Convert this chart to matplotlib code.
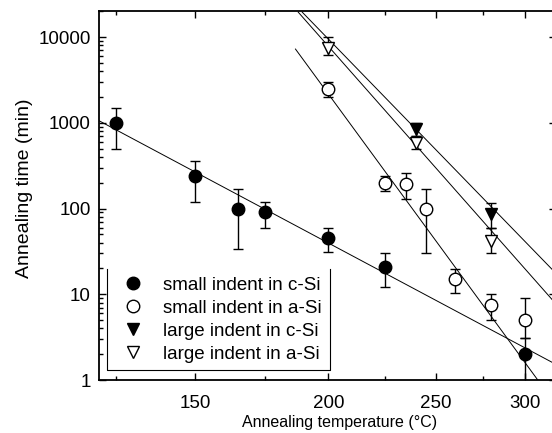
import matplotlib
matplotlib.use('Agg')
import matplotlib.pyplot as plt
import numpy as np
from matplotlib.ticker import FixedLocator, LogLocator, FuncFormatter, NullFormatter
from matplotlib.lines import Line2D

plt.rcParams['font.family'] = ['Liberation Sans', 'DejaVu Sans']
plt.rcParams['font.size'] = 13.5

# ---- measured annealing times (min) vs temperature (degC) ----
# small indent in c-Si
T_small_c = [125, 150, 165, 175, 200, 225, 300]
t_small_c = [1000, 240, 100, 90, 45, 21, 2.0]
lo_small_c = [500, 120, 34, 60, 31, 12, 0.5]
hi_small_c = [1500, 360, 168, 120, 60, 30, 3.1]

# small indent in a-Si
T_small_a = [200, 225, 235, 245, 260, 280, 300]
t_small_a = [2500, 200, 195, 100, 15, 7.5, 5.0]
lo_small_a = [2010, 161, 130, 30, 10.3, 5.0, 3.1]
hi_small_a = [3010, 241, 257, 167, 19.5, 10.1, 9.0]

# large indent in c-Si
T_large_c = [240, 280]
t_large_c = [840, 87]
lo_large_c = [700, 60]
hi_large_c = [1000, 117]

# large indent in a-Si
T_large_a = [200, 240, 280]
t_large_a = [7400, 576, 42]
lo_large_a = [6200, 490, 30]
hi_large_a = [9900, 700, 60]

# Arrhenius fit lines (end points, degC / min)
fit_T_small_c = [120, 319.8]
fit_t_small_c = [1057, 1.52]
fit_T_small_a = [186.6, 308]
fit_t_small_a = [7240, 1.0]
fit_T_large_c = [189.3, 319.8]
fit_t_large_c = [19500, 17.5]
fit_T_large_a = [187.7, 319.8]
fit_t_large_a = [19500, 7.7]

series = [
    (T_small_c, t_small_c, lo_small_c, hi_small_c, 'o', 'black', 'small indent in c-Si'),
    (T_small_a, t_small_a, lo_small_a, hi_small_a, 'o', 'white', 'small indent in a-Si'),
    (T_large_c, t_large_c, lo_large_c, hi_large_c, 'v', 'black', 'large indent in c-Si'),
    (T_large_a, t_large_a, lo_large_a, hi_large_a, 'v', 'white', 'large indent in a-Si'),
]
fits = [(fit_T_small_c, fit_t_small_c), (fit_T_small_a, fit_t_small_a),
        (fit_T_large_c, fit_t_large_c), (fit_T_large_a, fit_t_large_a)]

fig = plt.figure(figsize=(5.52, 4.33), dpi=100)
ax = fig.add_axes([0.1793, 0.1224, 0.828, 0.8517])

# x axis is linear in 1/T (Kelvin), labelled in degC
ax.set_xscale('function', functions=(lambda T: -1.0 / (np.asarray(T) + 273.15),
                                     lambda u: -1.0 / np.asarray(u) - 273.15))
ax.set_yscale('log')

for fT, ft in fits:
    ax.plot(fT, ft, color='black', lw=0.7, zorder=1)

handles = []
for T, t, lo, hi, mk, fc, lab in series:
    t = np.array(t)
    yerr = [t - np.array(lo), np.array(hi) - t]
    ax.errorbar(T, t, yerr=yerr, fmt='none', ecolor='black', elinewidth=1.0,
                capsize=3.5, capthick=1.0, zorder=2)
    ax.plot(T, t, ls='none', marker=mk, ms=9, mfc=fc, mec='black', mew=1.0, zorder=3)
    handles.append(Line2D([], [], ls='none', marker=mk, ms=9, mfc=fc, mec='black',
                          mew=1.0, label=lab))

ax.set_xlim(120, 319.8)
ax.set_ylim(1, 20000)

ax.xaxis.set_major_locator(FixedLocator([150, 200, 250, 300]))
ax.xaxis.set_minor_locator(FixedLocator([125, 175, 225, 275]))
ax.xaxis.set_major_formatter(FuncFormatter(lambda v, p: '%d' % round(v)))
ax.xaxis.set_minor_formatter(NullFormatter())
ax.yaxis.set_major_locator(LogLocator(base=10, numticks=10))
ax.yaxis.set_minor_locator(LogLocator(base=10, subs=np.arange(2, 10), numticks=50))
ax.yaxis.set_major_formatter(FuncFormatter(lambda v, p: '%d' % round(v)))
ax.yaxis.set_minor_formatter(NullFormatter())

ax.tick_params(which='both', direction='in', top=True, right=True, width=1.0)
ax.tick_params(which='major', length=5)
ax.tick_params(which='minor', length=3)
ax.tick_params(axis='x', which='major', pad=11)
ax.tick_params(axis='y', which='major', pad=6)
for s in ax.spines.values():
    s.set_linewidth(1.3)

ax.set_xlabel('Annealing temperature (\u00b0C)', fontsize=11.5, labelpad=2)
ax.xaxis.label.set_x(0.527)
ax.set_ylabel('Annealing time (min)', fontsize=14, labelpad=4)
ax.yaxis.label.set_y(0.52)

leg = ax.legend(handles=handles, loc='lower left', bbox_to_anchor=(0.018, 0.027),
                borderaxespad=0, frameon=True, fancybox=False, edgecolor='none',
                facecolor='none', handlelength=2.0, handletextpad=0.6,
                borderpad=0.4, labelspacing=0.31, fontsize=13.5)

# legend frame drawn open at the top
fig.canvas.draw()
bb = leg.get_frame().get_window_extent().transformed(fig.transFigure.inverted())
fig.add_artist(Line2D([bb.x0, bb.x0, bb.x1, bb.x1], [bb.y1, bb.y0, bb.y0, bb.y1],
                      transform=fig.transFigure, color='black', lw=0.8))

fig.savefig('out.png', dpi=100)
